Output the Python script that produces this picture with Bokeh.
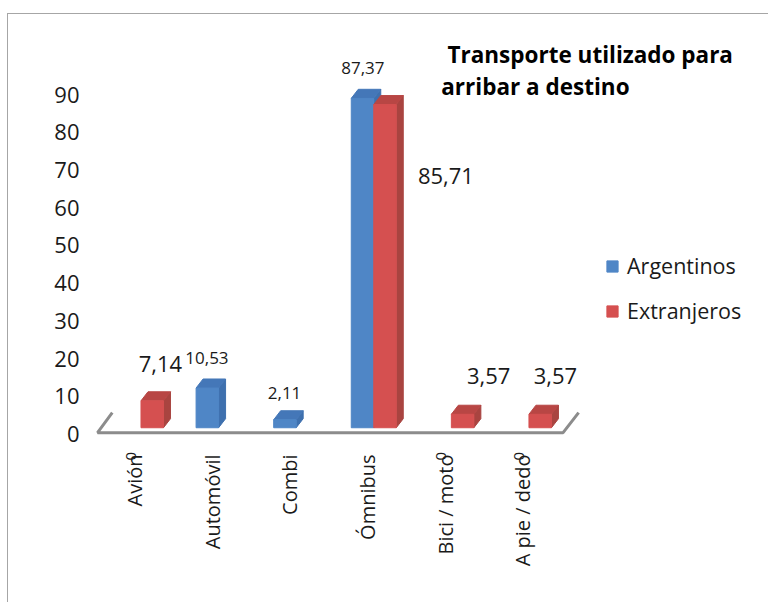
from math import pi
from bokeh.plotting import figure
from bokeh.embed import file_html
from bokeh.resources import INLINE
from bokeh.models import FixedTicker, Legend, LegendItem, Label

categories = ["Avión", "Automóvil", "Combi", "Ómnibus", "Bici / moto", "A pie / dedo"]
argentinos = [0, 10.53, 2.11, 87.37, 0, 0]
extranjeros = [7.14, 0, 0, 85.71, 3.57, 3.57]
y_ticks = [0, 10, 20, 30, 40, 50, 60, 70, 80, 90]
title_lines = ["Transporte utilizado para", "arribar a destino"]

FONT = "Open Sans"
BAR_W = 0.29
DX, DY = 0.09, 2.4
S = 0.66            # vertical shift of the marks above the axis zero
FLOOR_Y = 1.0 + S

p = figure(width=761, height=589, output_backend="svg", toolbar_location=None,
           x_range=(-0.625, 8.10), y_range=(-7.03, 111.27),
           min_border_left=84, min_border_right=0, min_border_top=0, min_border_bottom=143)
p.outline_line_color = None
p.grid.visible = False
p.background_fill_color = "white"
p.styles = {"border-top": "1px solid #a6a6a6", "border-left": "1px solid #a6a6a6",
            "margin-left": "7px", "margin-top": "13px"}

# y axis
p.yaxis.ticker = FixedTicker(ticks=y_ticks)
p.yaxis.axis_line_color = None
p.yaxis.major_tick_line_color = None
p.yaxis.minor_tick_line_color = None
p.yaxis.major_label_text_font = FONT
p.yaxis.major_label_text_font_size = "22px"
p.yaxis.major_label_text_color = "#1a1a1a"
p.yaxis.major_label_standoff = 7

# x axis
tick_pos = [i - 0.08 for i in range(len(categories))]
p.xaxis.ticker = FixedTicker(ticks=tick_pos)
p.xaxis.major_label_overrides = {t: c for t, c in zip(tick_pos, categories)}
p.xaxis.major_label_orientation = pi / 2
p.xaxis.axis_line_color = None
p.xaxis.major_tick_line_color = None
p.xaxis.minor_tick_line_color = None
p.xaxis.major_label_text_font = FONT
p.xaxis.major_label_text_font_size = "20px"
p.xaxis.major_label_text_color = "#1a1a1a"
p.xaxis.major_label_standoff = -12

# floor
p.line([-0.37, -0.56, 5.44, 5.64], [5 + S, -0.3 + S, -0.3 + S, 5 + S],
       line_color="#8c8c8c", line_width=3)


def bar(values, x_off, face, side, top):
    keep = [i for i, v in enumerate(values) if v > 0]
    xs = [i + x_off for i in keep]
    tops = [values[i] + FLOOR_Y for i in keep]
    left = [x - BAR_W / 2 for x in xs]
    right = [x + BAR_W / 2 for x in xs]
    p.patches([[r, r + DX, r + DX, r] for r in right],
              [[FLOOR_Y, FLOOR_Y + DY, t + DY, t] for t in tops],
              fill_color=side, line_color=side)
    p.patches([[l, l + DX, r + DX, r] for l, r in zip(left, right)],
              [[t, t + DY, t + DY, t] for t in tops],
              fill_color=top, line_color=top)
    return p.vbar(x=xs, width=BAR_W, bottom=FLOOR_Y, top=tops, fill_color=face, line_color=face)


r_a = bar(argentinos, -BAR_W / 2, "#4F86C6", "#3E70AE", "#4477B8")
r_e = bar(extranjeros, BAR_W / 2, "#D55050", "#A94440", "#B84644")

legend = Legend(items=[LegendItem(label="Argentinos", renderers=[r_a]),
                       LegendItem(label="Extranjeros", renderers=[r_e])],
                location=(513, 135), border_line_color=None, background_fill_alpha=0,
                glyph_width=14, glyph_height=14, label_text_font=FONT,
                label_text_font_size="21.5px", spacing=16, padding=0, margin=0,
                label_standoff=8, label_text_color="#1a1a1a")
p.add_layout(legend)


def note(i, v, dx, y_v, size):
    p.add_layout(Label(x=i + dx, y=y_v + S, text=f"{v:.2f}".replace(".", ","),
                       text_font=FONT, text_font_size=size, text_align="center",
                       text_baseline="middle", text_color="#1a1a1a"))


note(0, extranjeros[0], 0.25, 17.8, "22px")
note(1, argentinos[1], -0.15, 19.4, "17px")
note(2, argentinos[2], -0.15, 10.3, "17px")
note(3, argentinos[3], -0.14, 96.3, "17px")
note(3, extranjeros[3], 0.93, 67.9, "22px")
note(4, extranjeros[4], 0.48, 14.6, "22px")
note(5, extranjeros[5], 0.34, 14.6, "22px")

# zeros of the Argentinos series, beside the ends of the category labels
for i, v in enumerate(argentinos):
    if v == 0:
        p.add_layout(Label(x=i - 0.13, y=-5.9, text=str(v), angle=pi / 2, text_font=FONT,
                           text_font_size="15px", text_align="center", text_baseline="middle",
                           text_color="#1a1a1a"))

p.add_layout(Label(x=3.95, y=100 + S, text=title_lines[0], text_font=FONT, text_font_size="22.5px",
                   text_font_style="bold", text_baseline="middle", text_color="black"))
p.add_layout(Label(x=3.87, y=91.5 + S, text=title_lines[1], text_font=FONT, text_font_size="22.5px",
                   text_font_style="bold", text_baseline="middle", text_color="black"))

open("out.html", "w").write(file_html(p, INLINE))
